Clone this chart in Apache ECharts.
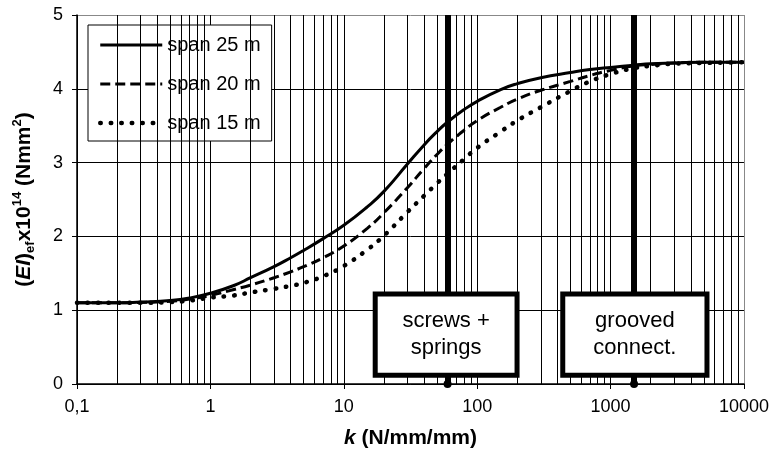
<!DOCTYPE html>
<html lang="en">
<head>
    <meta charset="UTF-8">
    <title>EI ef vs k</title>
    <script src="https://cdn.jsdelivr.net/npm/echarts@6/dist/echarts.min.js"></script>
    <style>
        html, body { margin: 0; padding: 0; background: #fff; }
    </style>
</head>
<body>
<div id="main" style="width: 772px;height:454px;"></div>
<script>
    // k values (N/mm/mm) the curves were read at
    var kValues = [0.1, 0.2, 0.3, 0.5, 0.7, 1, 1.5, 2, 3, 4, 5, 7, 10, 15, 20, 30, 40, 50, 60, 80,
        100, 150, 200, 300, 500, 700, 1000, 1500, 2000, 3000, 5000, 10000];
    // (EI)ef x10^14 for each span
    var span25 = [1.10, 1.10, 1.11, 1.13, 1.165, 1.23, 1.335, 1.44, 1.59, 1.71, 1.81, 1.97, 2.15, 2.40, 2.61, 2.98, 3.24, 3.42, 3.55, 3.72,
        3.83, 3.99, 4.07, 4.15, 4.22, 4.26, 4.29, 4.32, 4.34, 4.35, 4.36, 4.36];
    var span20 = [1.10, 1.10, 1.105, 1.12, 1.15, 1.20, 1.28, 1.34, 1.44, 1.52, 1.59, 1.71, 1.87, 2.11, 2.32, 2.66, 2.92, 3.11, 3.25, 3.44,
        3.57, 3.75, 3.86, 3.98, 4.10, 4.18, 4.25, 4.31, 4.33, 4.35, 4.36, 4.36];
    var span15 = [1.10, 1.10, 1.10, 1.11, 1.13, 1.17, 1.20, 1.24, 1.29, 1.33, 1.37, 1.46, 1.60, 1.82, 2.01, 2.33, 2.55, 2.72, 2.85, 3.05,
        3.20, 3.42, 3.57, 3.75, 3.97, 4.10, 4.20, 4.28, 4.31, 4.34, 4.35, 4.36];
    var seriesNames = ['span 25 m', 'span 20 m', 'span 15 m'];
    // minor log grid (2..9 of each decade)
    var minorK = [];
    [0.1, 1, 10, 100, 1000].forEach(function (d) {
        for (var m = 2; m <= 9; m++) minorK.push(+(d * m).toPrecision(3));
    });
    // connection types marked on the chart
    var connK = [60, 1500];
    var connLabels = ['screws +\nsprings', 'grooved\nconnect.'];

    function pairs(vals) {
        return kValues.map(function (k, i) { return [k, vals[i]]; });
    }

    var font = '"Liberation Sans", Arial, sans-serif';
    var lineStyles = [
        { color: '#000', width: 3, type: 'solid' },
        { color: '#000', width: 3, type: [10, 5] },
        { color: '#000', width: 4.5, type: [0.5, 10], cap: 'round' }
    ];
    var myChart = echarts.init(document.getElementById('main'));

    function curve(i, vals) {
        return {
            name: seriesNames[i],
            type: 'line',
            data: pairs(vals),
            smooth: 0.5,
            symbol: 'none',
            z: 3,
            lineStyle: lineStyles[i],
            itemStyle: { color: '#000' }
        };
    }

    var option = {
        animation: false,
        backgroundColor: '#fff',
        textStyle: { fontFamily: font, color: '#000' },
        grid: { left: 77, right: 28, top: 15, bottom: 66 },
        legend: {
            left: 88,
            top: 25,
            orient: 'vertical',
            padding: [10, 11, 8, 10],
            backgroundColor: '#fff',
            borderColor: '#000',
            borderWidth: 1,
            itemWidth: 62,
            itemHeight: 14,
            itemGap: 19,
            itemStyle: { opacity: 0 },
            textStyle: { fontSize: 20, lineHeight: 20, color: '#000', fontFamily: font },
            data: seriesNames.map(function (n, i) {
                return { name: n, lineStyle: lineStyles[i] };
            })
        },
        xAxis: {
            type: 'log',
            logBase: 10,
            min: 0.1,
            max: 10000,
            name: '{i|k}{p| (N/mm/mm)}',
            nameLocation: 'middle',
            nameGap: 44,
            nameTextStyle: {
                rich: {
                    i: { fontSize: 21, fontWeight: 'bold', fontStyle: 'italic', fontFamily: font, color: '#000' },
                    p: { fontSize: 21, fontWeight: 'bold', fontFamily: font, color: '#000' }
                }
            },
            axisLine: { lineStyle: { color: '#000', width: 1.5 } },
            axisTick: { show: true, inside: false, length: 5, lineStyle: { color: '#000' } },
            axisLabel: {
                fontSize: 18,
                color: '#000',
                margin: 14,
                fontFamily: font,
                formatter: function (v) {
                    return v < 1 ? String(+v.toPrecision(2)).replace('.', ',') : String(Math.round(v));
                }
            },
            splitLine: { show: true, lineStyle: { color: ['#000', '#000', '#000', '#000', '#000', '#888'], width: 1 } },
            minorTick: { show: false },
            minorSplitLine: { show: false }
        },
        yAxis: {
            type: 'value',
            min: 0,
            max: 5,
            interval: 1,
            name: '{p|(}{i|EI}{p|)}{sub|ef}{p|x10}{sup|14}{p| (Nmm}{sup|2}{p|)}',
            nameLocation: 'middle',
            nameGap: 40,
            nameRotate: 90,
            nameTextStyle: {
                rich: {
                    p: { fontSize: 21, fontWeight: 'bold', fontFamily: font, color: '#000', lineHeight: 26 },
                    i: { fontSize: 21, fontWeight: 'bold', fontStyle: 'italic', fontFamily: font, color: '#000', lineHeight: 26 },
                    sub: { fontSize: 13, fontWeight: 'bold', fontFamily: font, color: '#000', lineHeight: 13, verticalAlign: 'bottom' },
                    sup: { fontSize: 13, fontWeight: 'bold', fontFamily: font, color: '#000', lineHeight: 14, verticalAlign: 'top' }
                }
            },
            axisLine: { show: true, lineStyle: { color: '#000', width: 1.5 } },
            axisTick: { show: true, inside: false, length: 5, lineStyle: { color: '#000' } },
            axisLabel: { fontSize: 18, color: '#000', margin: 14, fontFamily: font },
            splitLine: { show: true, lineStyle: { color: ['#000', '#000', '#000', '#000', '#000', '#888'], width: 1 } }
        },
        series: [
            {
                // minor vertical grid lines
                name: 'grid',
                type: 'line',
                data: [],
                silent: true,
                z: 1,
                markLine: {
                    silent: true,
                    symbol: 'none',
                    label: { show: false },
                    lineStyle: { color: '#000', width: 1, type: 'solid' },
                    data: minorK.map(function (k) { return { xAxis: k }; })
                }
            },
            {
                // thick connection lines
                name: 'conn',
                type: 'line',
                data: [],
                silent: true,
                z: 2,
                markLine: {
                    silent: true,
                    symbol: ['circle', 'none'],
                    symbolSize: 8,
                    label: { show: false },
                    lineStyle: { color: '#000', width: 6, type: 'solid' },
                    data: connK.map(function (k) { return [{ coord: [k, 0] }, { coord: [k, 5] }]; })
                }
            },
            curve(0, span25),
            curve(1, span20),
            curve(2, span15)
        ]
    };

    myChart.setOption(option);

    // label boxes over the connection lines, placed in data space
    var boxes = [
        { k0: 17.2, k1: 199, text: connLabels[0] },
        { k0: 438, k1: 5280, text: connLabels[1] }
    ];
    var elements = [];
    boxes.forEach(function (b) {
        var a = myChart.convertToPixel({ gridIndex: 0 }, [b.k0, 1.22]);
        var c = myChart.convertToPixel({ gridIndex: 0 }, [b.k1, 0.12]);
        elements.push({
            type: 'rect',
            z: 100,
            shape: { x: a[0], y: a[1], width: c[0] - a[0], height: c[1] - a[1] },
            style: { fill: '#fff', stroke: '#000', lineWidth: 5 }
        });
        elements.push({
            type: 'text',
            z: 101,
            x: (a[0] + c[0]) / 2,
            y: (a[1] + c[1]) / 2,
            style: {
                text: b.text,
                fontSize: 22,
                lineHeight: 27,
                fontFamily: font,
                fill: '#000',
                align: 'center',
                verticalAlign: 'middle'
            }
        });
    });
    myChart.setOption({ graphic: elements });
</script>
</body>
</html>
